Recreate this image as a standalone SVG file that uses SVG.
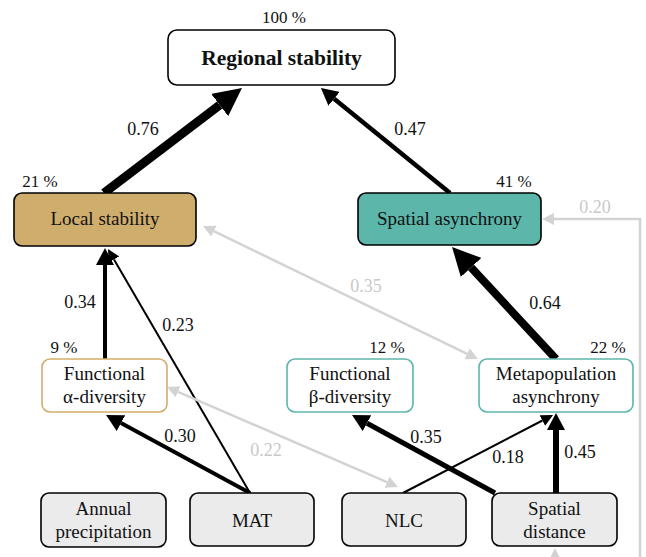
<svg xmlns="http://www.w3.org/2000/svg" width="646" height="557" viewBox="0 0 646 557">
<defs>
<marker id="mBig" markerUnits="userSpaceOnUse" viewBox="0 -14 28 28" markerWidth="28" markerHeight="28" refX="0" refY="0" orient="auto"><path d="M0,-14 L28,0 L0,14 z" fill="#000"/></marker>
<marker id="mMed" markerUnits="userSpaceOnUse" viewBox="0 -9 17 18" markerWidth="17" markerHeight="18" refX="0" refY="0" orient="auto"><path d="M0,-9 L17,0 L0,9 z" fill="#000"/></marker>
<marker id="mSm" markerUnits="userSpaceOnUse" viewBox="0 -6 12 12" markerWidth="12" markerHeight="12" refX="0" refY="0" orient="auto"><path d="M0,-6 L12,0 L0,6 z" fill="#000"/></marker>
<marker id="mGray" markerUnits="userSpaceOnUse" viewBox="0 -6 12 12" markerWidth="12" markerHeight="12" refX="0" refY="0" orient="auto-start-reverse"><path d="M0,-6 L12,0 L0,6 z" fill="#D3D3D3"/></marker>
</defs>

<g id="connectors" text-anchor="middle" font-size="18" fill="#111">
<g stroke="#000" fill="none">
<line x1="104" y1="193" x2="219.7" y2="105" stroke-width="9" marker-end="url(#mBig)"/>
<line x1="450" y1="193" x2="334.1" y2="98.8" stroke-width="4.5" marker-end="url(#mMed)"/>
<line x1="105" y1="359" x2="105" y2="265" stroke-width="4" marker-end="url(#mMed)"/>
<line x1="250" y1="493" x2="114" y2="259.4" stroke-width="2" marker-end="url(#mSm)"/>
<line x1="250" y1="493" x2="121" y2="423.1" stroke-width="4" marker-end="url(#mMed)"/>
<line x1="556" y1="359" x2="471.1" y2="267.5" stroke-width="8" marker-end="url(#mBig)"/>
<line x1="495" y1="493" x2="367" y2="423.2" stroke-width="5" marker-end="url(#mMed)"/>
<line x1="403" y1="493" x2="542.4" y2="420.5" stroke-width="2" marker-end="url(#mSm)"/>
<line x1="556" y1="493" x2="556" y2="430" stroke-width="6" marker-end="url(#mMed)"/>
</g>
<g stroke="#D3D3D3" stroke-width="2.5" fill="none">
<line x1="213.8" y1="231.2" x2="467.2" y2="353.8" marker-start="url(#mGray)" marker-end="url(#mGray)"/>
<line x1="178" y1="391.8" x2="387" y2="482.2" marker-start="url(#mGray)" marker-end="url(#mGray)"/>
<path d="M555,560 V575 H640 V219 H554" marker-start="url(#mGray)" marker-end="url(#mGray)"/>
</g>
<text font-family="Liberation Serif" x="143" y="135">0.76</text>
<text font-family="Liberation Serif" x="410" y="135">0.47</text>
<text font-family="Liberation Serif" x="80" y="308">0.34</text>
<text font-family="Liberation Serif" x="178" y="331">0.23</text>
<text font-family="Liberation Serif" x="366" y="292" fill="#C9C9C9">0.35</text>
<text font-family="Liberation Serif" x="545" y="309">0.64</text>
<text font-family="Liberation Serif" x="595" y="213" fill="#C9C9C9">0.20</text>
<text font-family="Liberation Serif" x="180" y="442">0.30</text>
<text font-family="Liberation Serif" x="266" y="456" fill="#C9C9C9">0.22</text>
<text font-family="Liberation Serif" x="426" y="443">0.35</text>
<text font-family="Liberation Serif" x="508" y="463">0.18</text>
<text font-family="Liberation Serif" x="580" y="458">0.45</text>
</g>

<g id="regional" text-anchor="middle" fill="#111">
<rect x="168" y="30" width="227" height="55" rx="9" fill="#fff" stroke="#000" stroke-width="1.6"/>
<text font-family="Liberation Serif" x="281.5" y="65" font-weight="bold" font-size="21.5">Regional stability</text>
<text font-family="Liberation Serif" x="284" y="23" font-size="17">100 %</text>
</g>
<g id="local" text-anchor="middle" fill="#111">
<rect x="14" y="193" width="182" height="53" rx="8" fill="#CFAD6C" stroke="#000" stroke-width="1.6"/>
<text font-family="Liberation Serif" x="105" y="225" font-size="19">Local stability</text>
<text font-family="Liberation Serif" x="40" y="187" font-size="17">21 %</text>
</g>
<g id="spatialasync" text-anchor="middle" fill="#111">
<rect x="358" y="193" width="183" height="52" rx="8" fill="#5CB6AA" stroke="#000" stroke-width="1.6"/>
<text font-family="Liberation Serif" x="449.5" y="225" font-size="19">Spatial asynchrony</text>
<text font-family="Liberation Serif" x="514" y="187" font-size="17">41 %</text>
</g>
<g id="funcalpha" text-anchor="middle" fill="#111" font-size="19">
<rect x="42" y="359" width="125" height="53" rx="8" fill="#fff" stroke="#D2AE6C" stroke-width="1.6"/>
<text font-family="Liberation Serif" x="104.5" y="380">Functional</text>
<text font-family="Liberation Serif" x="104.5" y="403">&#945;-diversity</text>
<text font-family="Liberation Serif" x="64" y="353" font-size="17">9 %</text>
</g>
<g id="funcbeta" text-anchor="middle" fill="#111" font-size="19">
<rect x="287" y="359" width="126" height="53" rx="8" fill="#fff" stroke="#5CB6AA" stroke-width="1.6"/>
<text font-family="Liberation Serif" x="350" y="380">Functional</text>
<text font-family="Liberation Serif" x="350" y="403">&#946;-diversity</text>
<text font-family="Liberation Serif" x="387" y="353" font-size="17">12 %</text>
</g>
<g id="metapop" text-anchor="middle" fill="#111" font-size="19">
<rect x="479" y="359" width="154" height="53" rx="8" fill="#fff" stroke="#5CB6AA" stroke-width="1.6"/>
<text font-family="Liberation Serif" x="556" y="380">Metapopulation</text>
<text font-family="Liberation Serif" x="556" y="403">asynchrony</text>
<text font-family="Liberation Serif" x="608" y="353" font-size="17">22 %</text>
</g>
<g id="precip" text-anchor="middle" fill="#111" font-size="19">
<rect x="41" y="493" width="125" height="54" rx="8" fill="#EBEBEB" stroke="#000" stroke-width="1.6"/>
<text font-family="Liberation Serif" x="103.5" y="515">Annual</text>
<text font-family="Liberation Serif" x="103.5" y="538">precipitation</text>
</g>
<g id="mat" text-anchor="middle" fill="#111" font-size="19">
<rect x="190" y="493" width="124" height="53" rx="8" fill="#EBEBEB" stroke="#000" stroke-width="1.6"/>
<text font-family="Liberation Serif" x="252" y="527">MAT</text>
</g>
<g id="nlc" text-anchor="middle" fill="#111" font-size="19">
<rect x="342" y="493" width="124" height="53" rx="8" fill="#EBEBEB" stroke="#000" stroke-width="1.6"/>
<text font-family="Liberation Serif" x="404" y="527">NLC</text>
</g>
<g id="spatialdist" text-anchor="middle" fill="#111" font-size="19">
<rect x="492" y="493" width="125" height="53" rx="8" fill="#EBEBEB" stroke="#000" stroke-width="1.6"/>
<text font-family="Liberation Serif" x="554.5" y="515">Spatial</text>
<text font-family="Liberation Serif" x="554.5" y="538">distance</text>
</g>
</svg>
